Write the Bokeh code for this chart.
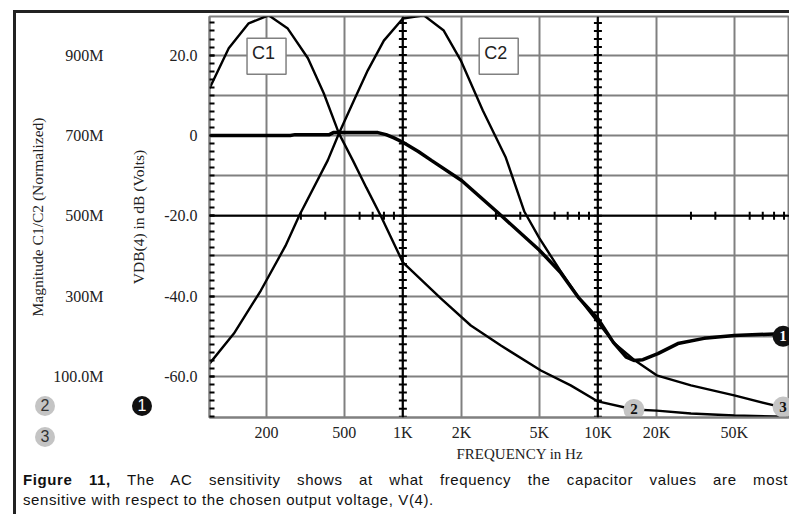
from bokeh.plotting import figure
from bokeh.models import (FixedTicker, LinearAxis, Range1d, Label, Span,
                          ColumnDataSource, Title, Div)
from bokeh.layouts import column
from bokeh.core.properties import value
from bokeh.embed import file_html
from bokeh.resources import INLINE

# ---------------- data ----------------
c1_freq = [102, 128, 162, 205, 257, 326, 393, 470, 554, 650, 770, 1000, 1570,
           2230, 3180, 5100, 7250, 10000, 15300, 20000, 30000, 50000, 93000]
c1_db = [11.7, 21.7, 27.9, 29.9, 26.6, 19.2, 10.5, 0.5, -6.2, -13.0, -20.0,
         -31.6, -40.6, -47.3, -52.3, -58.5, -62.2, -66.2, -68.2, -68.5, -69.2,
         -69.7, -70.0]

c2_freq = [102, 136, 187, 250, 294, 412, 470, 561, 661, 799, 1000, 1280, 1620,
           1980, 2570, 3370, 4200, 5000, 6400, 8000, 10000, 12000, 15300, 20000,
           30000, 50000, 80000, 93000]
c2_db = [-56.8, -49.3, -38.6, -27.5, -20.0, -6.2, 0.5, 8.7, 16.2, 23.6, 29.1,
         29.9, 26.1, 18.7, 6.2, -5.5, -19.0, -25.5, -33.6, -40.5, -46.5, -51.5,
         -55.8, -59.7, -62.2, -64.7, -67.2, -67.8]

out_freq = [102, 265, 280, 420, 440, 745, 820, 900, 1000, 1200, 1400, 2000,
            3200, 5000, 6400, 8000, 10000, 12000, 14000, 15300, 17000, 20300,
            25700, 35000, 50000, 80000, 93000]
out_db = [0.0, 0.0, 0.2, 0.2, 0.7, 0.7, 0.2, -0.6, -1.7, -4.0, -6.2, -11.2,
          -20.0, -28.5, -34.0, -40.5, -45.6, -51.5, -55.2, -56.0, -55.8, -54.3,
          -51.8, -50.5, -49.8, -49.4, -49.3]

marker_freq = [15300, 89000, 89000]
marker_db = [-68.2, -67.6, -50.0]
marker_text = ["2", "3", "1"]

x_ticks = [200, 500, 1000, 2000, 5000, 10000, 20000, 50000]
x_tick_labels = ["200", "500", "1K", "2K", "5K", "10K", "20K", "50K"]
y_ticks = [20, 0, -20, -40, -60]
y_tick_labels = ["20.0", "0", "-20.0", "-40.0", "-60.0"]
mag_tick_labels = ["900M", "700M", "500M", "300M", "100.0M"]
y_grid = [20, 10, 0, -10, -20, -30, -40, -50, -60]
y_minor = list(range(-70, 30, 2))
x_minor = [300, 400, 600, 700, 800, 900, 3000, 4000, 6000, 7000, 8000, 9000,
           30000, 40000, 60000, 70000, 80000, 90000]
dark_x = [1000, 10000]
dark_y = [-20]

caption_bold = "Figure 11,"
caption_rest = "The AC sensitivity shows at what frequency the capacitor values are most"
caption_2 = "sensitive with respect to the chosen output voltage, V(4)."
side_keys = ["2", "3", "1"]

# ---------------- figure ----------------
W, HF, HD = 789, 462, 52
FL, FT, FB = 209, 16, 417          # frame left / top / bottom (px)
SERIF = "Liberation Serif"
SANS = "Liberation Sans"
GRID = "#808080"
INK = "#222222"

p = figure(width=W, height=HF, x_axis_type="log",
           x_range=Range1d(102, 96000), y_range=Range1d(-70.2, 29.6),
           output_backend="svg", toolbar_location=None,
           min_border_left=FL, min_border_right=0, min_border_top=FT,
           min_border_bottom=HF - FB)
p.background_fill_color = "white"
p.border_fill_color = "white"
p.outline_line_color = GRID
p.outline_line_width = 2

# grid
p.xgrid.ticker = FixedTicker(ticks=x_ticks)
p.ygrid.ticker = FixedTicker(ticks=y_grid)
for g in (p.xgrid, p.ygrid):
    g.grid_line_color = GRID
    g.grid_line_width = 2

# x axis
xa = p.xaxis[0]
xa.ticker = FixedTicker(ticks=x_ticks)
xa.major_label_overrides = {t: l for t, l in zip(x_ticks, x_tick_labels)}
xa.major_tick_in = 0
xa.major_tick_out = 0
xa.minor_tick_in = 0
xa.minor_tick_out = 0
xa.axis_line_color = GRID
xa.axis_line_width = 2
xa.major_label_standoff = 6
xa.major_label_text_font = SERIF
xa.major_label_text_font_size = "16px"
xa.major_label_text_color = INK

# inner y axis (dB)
ya = p.yaxis[0]
ya.ticker = FixedTicker(ticks=y_ticks, minor_ticks=y_minor)
ya.major_label_overrides = {t: l for t, l in zip(y_ticks, y_tick_labels)}
ya.major_tick_in = 5
ya.major_tick_out = 0
ya.minor_tick_in = 5
ya.minor_tick_out = 0
ya.major_tick_line_color = "black"
ya.minor_tick_line_color = "black"
ya.major_tick_line_width = 2
ya.minor_tick_line_width = 2
ya.axis_line_color = GRID
ya.axis_line_width = 2
ya.major_label_standoff = 12
ya.major_label_text_font = SERIF
ya.major_label_text_font_size = "16px"
ya.major_label_text_color = INK
ya.axis_label = "VDB(4) in dB (Volts)"
ya.axis_label_text_font = SERIF
ya.axis_label_text_font_style = "normal"
ya.axis_label_text_font_size = "15.5px"
ya.axis_label_text_color = INK
ya.axis_label_standoff = 14

# outer y axis (normalised magnitude)
ma = LinearAxis(ticker=FixedTicker(ticks=y_ticks))
ma.major_label_overrides = {t: l for t, l in zip(y_ticks, mag_tick_labels)}
ma.axis_line_color = None
ma.major_tick_line_color = None
ma.minor_tick_line_color = None
ma.major_tick_out = 0
ma.major_tick_in = 0
ma.major_label_standoff = 24
ma.major_label_text_font = SERIF
ma.major_label_text_font_size = "16px"
ma.major_label_text_color = INK
ma.axis_label = "Magnitude C1/C2 (Normalized)"
ma.axis_label_text_font = SERIF
ma.axis_label_text_font_style = "normal"
ma.axis_label_text_font_size = "15.5px"
ma.axis_label_text_color = INK
ma.axis_label_standoff = 4
p.add_layout(ma, "left")

# x axis name
p.add_layout(Title(text="FREQUENCY in Hz", align="left", offset=247,
                   text_font=SERIF, text_font_size="15px",
                   text_font_style="normal", text_color=INK, standoff=0),
             "below")

# dark reference lines with cross ticks
for xv in dark_x:
    p.add_layout(Span(location=xv, dimension="height", line_color="black",
                      line_width=2))
for yv in dark_y:
    p.add_layout(Span(location=yv, dimension="width", line_color="black",
                      line_width=2))
for xv in dark_x:
    p.scatter(x=[xv] * len(y_minor), y=y_minor, marker="dash", size=8,
              line_color="black", line_width=2)
for yv in dark_y:
    p.scatter(x=x_minor, y=[yv] * len(x_minor), marker="dash", size=8,
              angle=1.5708, line_color="black", line_width=2)

# curves
p.line(c1_freq, c1_db, line_color="black", line_width=2.4)
p.line(c2_freq, c2_db, line_color="black", line_width=2.4)
p.line(out_freq, out_db, line_color="black", line_width=3.5)

# curve markers
msrc = ColumnDataSource(dict(x=marker_freq, y=marker_db, t=marker_text,
                             fill=["#c4c4c4", "#c4c4c4", "#111111"],
                             tc=["#111111", "#111111", "white"]))
p.scatter("x", "y", source=msrc, size=21, fill_color="fill", line_color=None)
p.text("x", "y", text="t", source=msrc, text_align="center",
       text_baseline="middle", text_color="tc", text_font=value(SERIF),
       text_font_style="bold", text_font_size="15px")

# C1 / C2 boxes
for fx, lab in [(200, "C1"), (3100, "C2")]:
    p.add_layout(Label(x=fx, y=19.7, text=lab, text_align="center",
                       text_baseline="middle", text_font=SANS,
                       text_font_size="18px", text_color=INK,
                       background_fill_color="white",
                       border_line_color=GRID, border_line_width=1.5,
                       padding=(5, 11, 5, 11)))

# ---------------- caption block (with side keys and page border) ----------
def key(cx, cy, t, bg, fg):
    return ('<div style="position:absolute;left:%dpx;top:%dpx;width:20px;'
            'height:20px;border-radius:50%%;background:%s;color:%s;'
            "font-family:'Liberation Sans',sans-serif;font-size:16px;"
            'line-height:20px;text-align:center;z-index:5;">%s</div>'
            % (cx - 10, cy - 10 - HF, bg, fg, t))

keys_html = (key(40, 401, side_keys[0], "#c4c4c4", "#333333")
             + key(40, 432, side_keys[1], "#c4c4c4", "#333333")
             + key(137, 401, side_keys[2], "#111111", "#ffffff"))
border_html = ('<div style="position:absolute;left:8px;top:%dpx;width:2.5px;'
               'height:%dpx;background:#222;z-index:5;"></div>'
               '<div style="position:absolute;left:8px;top:%dpx;width:781px;'
               'height:2.5px;background:#222;z-index:5;"></div>'
               % (5 - HF, HF + HD - 5, 5 - HF))
cap_style = ("position:absolute;left:18px;width:765px;"
             "font-family:'Liberation Sans',Arial,sans-serif;font-size:15px;"
             "line-height:20px;color:#111;letter-spacing:0.6px;")
caption_html = ('<div style="%stop:3px;text-align:justify;'
                'text-align-last:justify;"><b>%s</b> %s</div>'
                '<div style="%stop:23px;">%s</div>'
                % (cap_style, caption_bold, caption_rest, cap_style, caption_2))

div = Div(text='<div style="position:relative;width:%dpx;height:%dpx;">%s%s%s</div>'
          % (W, HD, keys_html, border_html, caption_html),
          width=W, height=HD, styles={"overflow": "visible"},
          stylesheets=[":host{overflow:visible !important;} "
                       ".bk-clearfix{overflow:visible !important;}"])

layout = column(p, div, spacing=0)
open("out.html", "w").write(file_html(layout, INLINE))
